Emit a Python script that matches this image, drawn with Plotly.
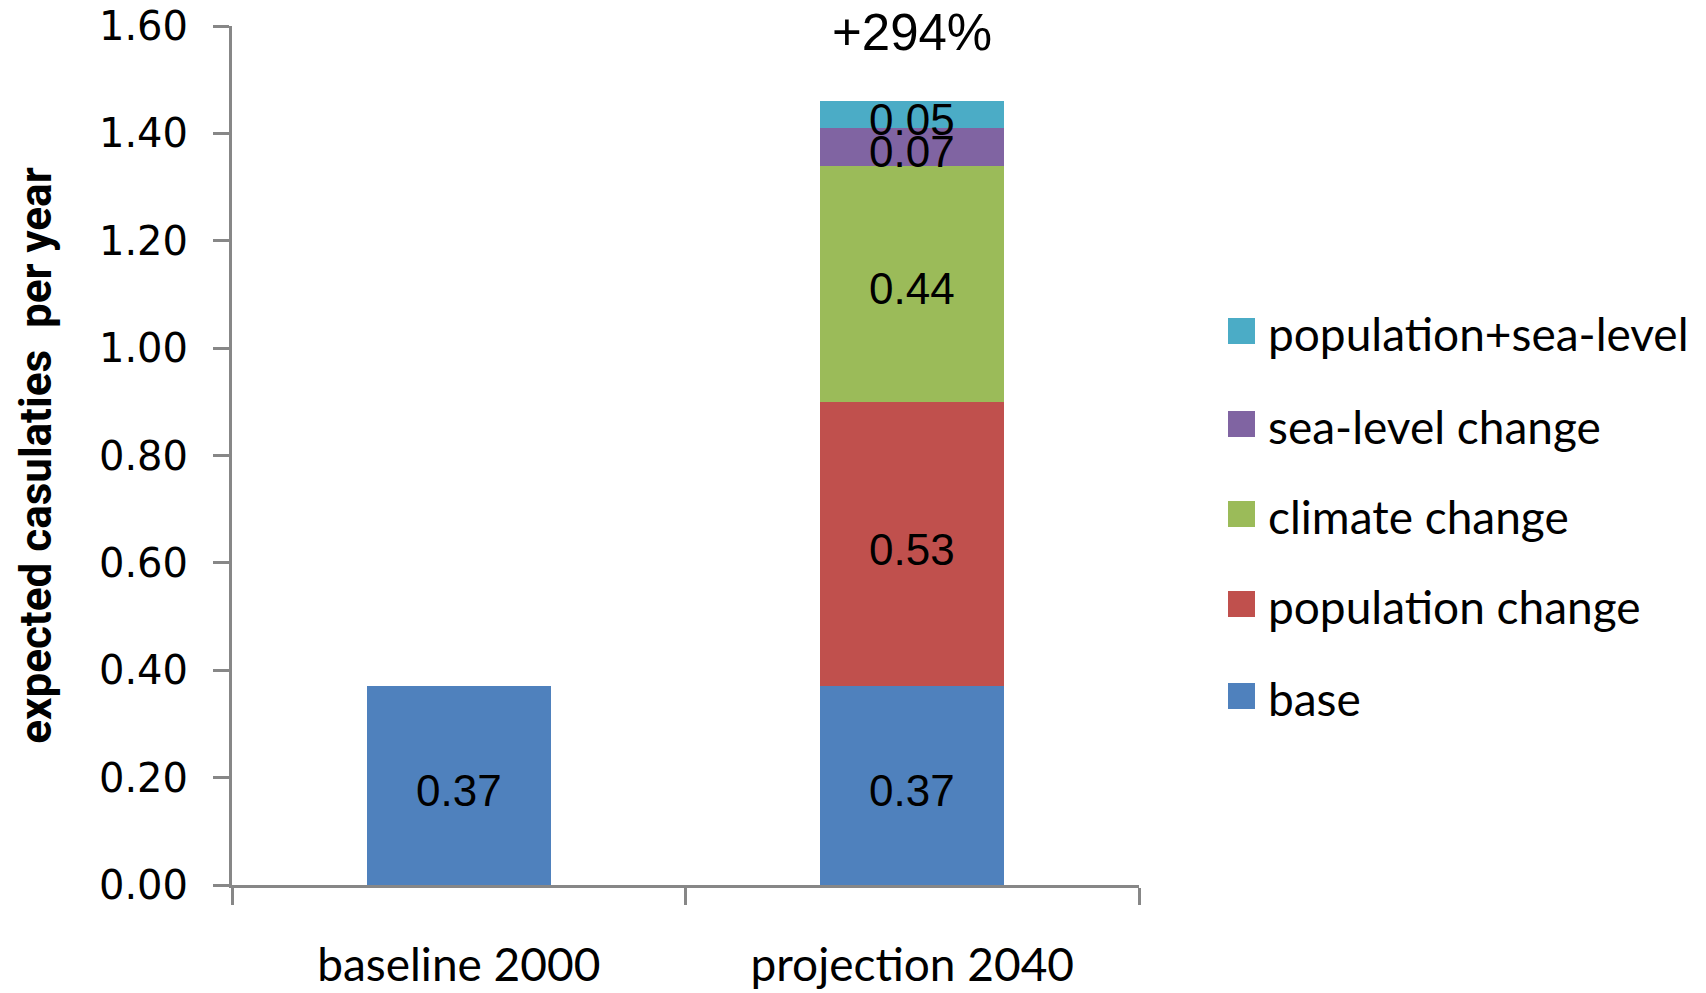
import plotly.graph_objects as go

# Categories and stacked components (expected casualties per year)
categories = ["baseline 2000", "projection 2040"]
series_names = ["base", "population change", "climate change",
                "sea-level change", "population+sea-level"]
base = [0.37, 0.37]
population_change = [None, 0.53]
climate_change = [None, 0.44]
sea_level_change = [None, 0.07]
population_sea_level = [None, 0.05]
change_label = "+294%"
y_ticks = [0.0, 0.2, 0.4, 0.6, 0.8, 1.0, 1.2, 1.4, 1.6]

series_values = [base, population_change, climate_change,
                 sea_level_change, population_sea_level]
colors = ["#4F81BD", "#C0504D", "#9BBB59", "#8064A2", "#4BACC6"]

W, H = 1706, 993
ML, MR, MT, MB = 232, 567, 26, 108
PW, PH = W - ML - MR, H - MT - MB


def px_to_paper(xp, yp):
    return (xp - ML) / PW, (H - MB - yp) / PH


fig = go.Figure()
for name, vals, col in zip(series_names, series_values, colors):
    fig.add_trace(go.Bar(
        x=categories, y=vals, name=name,
        marker=dict(color=col, line=dict(width=0)),
        showlegend=False, hoverinfo="x+y+name",
    ))

annotations = []
# value labels centred in each stacked segment
for ci, cat in enumerate(categories):
    cum = 0.0
    for vals in series_values:
        v = vals[ci]
        if v is None:
            continue
        annotations.append(dict(
            x=cat, y=cum + v / 2, xref="x", yref="y",
            text=f"{v:.2f}", showarrow=False, yshift=-5,
            font=dict(family="Liberation Sans, Arial", size=44, color="black"),
        ))
        cum += v

# percentage change above the projection bar
annotations.append(dict(
    x=categories[1], y=0.992, xref="x", yref="paper",
    text=change_label, showarrow=False, yanchor="middle",
    font=dict(family="Liberation Sans, Arial", size=51, color="black"),
))

# legend: squares with labels, top entry is the last series
shapes = []
row_centers = [331, 424, 514, 604, 696]
for i, (name, col) in enumerate(zip(series_names[::-1], colors[::-1])):
    yc = row_centers[i]
    x0, y0 = px_to_paper(1228, yc + 13)
    x1, y1 = px_to_paper(1255, yc - 13)
    shapes.append(dict(type="rect", xref="paper", yref="paper",
                       x0=x0, y0=y0, x1=x1, y1=y1,
                       fillcolor=col, line=dict(width=0)))
    tx, ty = px_to_paper(1266, yc + 2)
    annotations.append(dict(
        x=tx, y=ty, xref="paper", yref="paper", text=name,
        showarrow=False, xanchor="left", yanchor="middle",
        font=dict(family="Lato", size=46, color="black"),
    ))

axis_col = "#878787"
fig.update_layout(
    width=W, height=H,
    margin=dict(l=ML, r=MR, t=MT, b=MB, autoexpand=False),
    barmode="stack", bargap=0.595,
    plot_bgcolor="white", paper_bgcolor="white",
    showlegend=False,
    annotations=annotations, shapes=shapes,
    xaxis=dict(
        type="category", showline=True, linecolor=axis_col, linewidth=3,
        ticks="outside", tickson="boundaries", ticklen=17,
        tickcolor=axis_col, tickwidth=2.5, showgrid=False,
        ticklabelstandoff=38,
        tickfont=dict(family="Lato", size=46, color="black"),
    ),
    yaxis=dict(
        range=[0, 1.6], tickvals=y_ticks, tickformat=".2f",
        showline=True, linecolor=axis_col, linewidth=3,
        ticks="outside", ticklen=16, tickcolor=axis_col, tickwidth=2.5,
        showgrid=False, zeroline=False, ticklabelstandoff=17,
        tickfont=dict(family="DejaVu Sans", size=40, color="black"),
        title=dict(text="<b>expected casulaties  per year</b>", standoff=34,
                   font=dict(family="Liberation Sans Narrow, Roboto", size=44,
                             color="black")),
    ),
)

fig.write_html("out.html")
